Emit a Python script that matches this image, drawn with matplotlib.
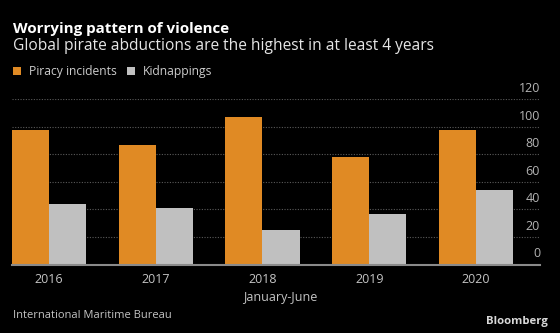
import numpy as np
import matplotlib
matplotlib.use('Agg')
import matplotlib.pyplot as plt
from matplotlib.transforms import blended_transform_factory

# Piracy vs kidnappings, first half of each year
years = ['2016', '2017', '2018', '2019', '2020']
piracy = [98, 87, 107, 78, 98]
kidnappings = [44, 41, 25, 37, 54]
yticks = [0, 20, 40, 60, 80, 100, 120]

orange = '#e08a24'
grey = '#c0c0c0'
bg = '#000000'

plt.rcParams['font.family'] = ['Open Sans', 'DejaVu Sans']

W, H = 560, 333
fig = plt.figure(figsize=(W / 100, H / 100), dpi=100, facecolor=bg)
ax = fig.add_axes([12 / W, 1 - 264.5 / H, 528 / W, (264.5 - 99.3) / H])
ax.set_facecolor(bg)

x = np.arange(len(years))
w = 0.347
b1 = ax.bar(x - w / 2, piracy, w, color=orange, label='Piracy incidents', zorder=3)
b2 = ax.bar(x + w / 2, kidnappings, w, color=grey, label='Kidnappings', zorder=3)

ax.set_xlim(-w, 4.6)
ax.set_ylim(0, 120)

# dotted gridlines, solid baseline
for v in yticks[1:]:
    ax.axhline(v, color='#5a5a5a', lw=0.8, ls=(0, (1, 1.4)), zorder=1)
ax.axhline(0, color='#8a8a8a', lw=1.5, zorder=4, clip_on=False)

# value labels sit above each gridline at the right edge
tr = blended_transform_factory(ax.transAxes, ax.transData)
for v in yticks:
    ax.text(1.0, v + 3.0, str(v), transform=tr, ha='right', va='bottom',
            fontsize=9, color='#b4b4b4')

ax.set_yticks([])
ax.set_xticks(x)
ax.set_xticklabels(years)
ax.tick_params(axis='x', length=0, pad=6, labelsize=9, labelcolor='#c4c4c4')
for s in ax.spines.values():
    s.set_visible(False)

fig.text(12.7 / W, 1 - 32.5 / H, 'Worrying pattern of violence', fontsize=10.9,
         fontweight='bold', color='white', va='baseline')
fig.text(12.7 / W, 1 - 50.5 / H,
         'Global pirate abductions are the highest in at least 4 years',
         fontsize=11.2, color='#e6e6e6', va='baseline')

fig.legend(handles=[b1, b2], loc='center left',
           bbox_to_anchor=(12.9 / W, 1 - 71.7 / H), ncol=2, frameon=False,
           fontsize=8.7, labelcolor='#cccccc', handlelength=0.7,
           handleheight=0.7, handletextpad=0.6, columnspacing=0.85,
           borderpad=0, borderaxespad=0)

fig.text(280 / W, 1 - 297 / H, 'January-June', fontsize=9, color='#c4c4c4',
         ha='center', va='center')
fig.text(12.7 / W, 1 - 316 / H, 'International Maritime Bureau', fontsize=8,
         color='#c4c4c4', va='center')
fig.text(548 / W, 1 - 321.7 / H, 'Bloomberg', fontsize=8.2, fontweight='bold',
         color='#d8d8d8', ha='right', va='center')

fig.savefig('out.png', dpi=100, facecolor=bg)
